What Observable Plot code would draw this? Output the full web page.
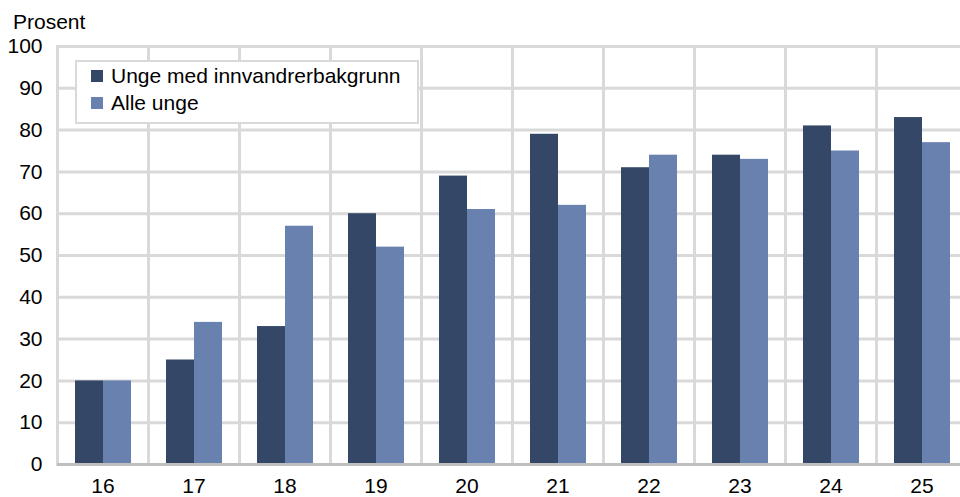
<!DOCTYPE html>
<html>
<head>
<meta charset="utf-8">
<script src="https://cdn.jsdelivr.net/npm/d3@7"></script>
<script src="https://cdn.jsdelivr.net/npm/@observablehq/plot@0.6"></script>
<style>
  html, body { margin: 0; padding: 0; background: #fff; }
  #wrap { position: relative; width: 960px; height: 497px; overflow: hidden; font-family: "Liberation Sans", Arial, sans-serif; }
  #ylabel { position: absolute; left: 13px; top: 10px; font-size: 21px; line-height: 24px; color: #000; }
  #legend { position: absolute; left: 75px; top: 60px; width: 340px; height: 60px; border: 2px solid #d9d9d9; background: #fff; box-sizing: content-box; }
  .row { position: absolute; left: 14px; display: flex; align-items: center; font-size: 21px; color: #000; white-space: nowrap; }
  .sw { width: 12px; height: 12px; margin-right: 8px; }
</style>
</head>
<body>
<div id="wrap"></div>
<script>
const ages = ["16","17","18","19","20","21","22","23","24","25"];
const series = ["Unge med innvandrerbakgrunn", "Alle unge"];
const innvandrer = [20, 25, 33, 60, 69, 79, 71, 74, 81, 83];
const alleUnge = [20, 34, 57, 52, 61, 62, 74, 73, 75, 77];
const yTicks = [0, 10, 20, 30, 40, 50, 60, 70, 80, 90, 100];
const yLabel = "Prosent";
const colors = ["#344767", "#6981af"];

const data = ages.flatMap((a, i) => [
  {age: a, series: series[0], value: innvandrer[i]},
  {age: a, series: series[1], value: alleUnge[i]}
]);

const chart = Plot.plot({
  width: 960,
  height: 497,
  marginTop: 46,
  marginBottom: 33,
  marginLeft: 57,
  marginRight: -7,
  style: {fontFamily: "Liberation Sans, Arial, sans-serif", fontSize: "21px", color: "#000", background: "#fff"},
  fx: {domain: ages, padding: 0, label: null, tickSize: 0, tickPadding: 14},
  x: {domain: series, axis: null, paddingInner: 0, paddingOuter: 0.625},
  y: {domain: [0, 100], ticks: yTicks, label: null, tickSize: 0, tickPadding: 15},
  color: {domain: series, range: colors},
  marks: [
    Plot.ruleY(yTicks, {stroke: "#d9d9d9", strokeWidth: 3}),
    Plot.frame({stroke: "#d9d9d9", strokeWidth: 3}),
    Plot.barY(data, {fx: "age", x: "series", y: "value", fill: "series"}),
    Plot.ruleY([0], {stroke: "#bfbfbf", strokeWidth: 3})
  ]
});

const wrap = document.getElementById("wrap");
wrap.appendChild(chart);

const yl = document.createElement("div");
yl.id = "ylabel";
yl.textContent = yLabel;
wrap.appendChild(yl);

const legend = document.createElement("div");
legend.id = "legend";
series.forEach((s, i) => {
  const row = document.createElement("div");
  row.className = "row";
  row.style.top = (2 + i * 27) + "px";
  const sw = document.createElement("span");
  sw.className = "sw";
  sw.style.background = colors[i];
  const t = document.createElement("span");
  t.textContent = s;
  row.appendChild(sw);
  row.appendChild(t);
  legend.appendChild(row);
});
wrap.appendChild(legend);
</script>
</body>
</html>
